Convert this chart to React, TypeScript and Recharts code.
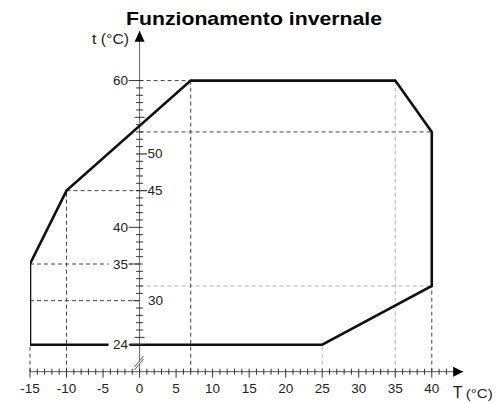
import { ComposedChart, Line, XAxis, YAxis, ReferenceLine, ReferenceDot } from 'recharts'

// operating envelope (outdoor T vs water t), clockwise from bottom-left corner
const envelopeT = [-15, -15, -10, 7, 35, 40, 40, 25, -15]
const envelopeW = [24, 35, 45, 60, 60, 53, 32, 24, 24]

// horizontal dashed guides
const hGuideY = [60, 53, 45, 35, 30, 32]
const hGuideFrom = [0, 0, -10, -15, -15, 0]
const hGuideTo = [7, 40, 0, 0, 0, 40]
const hGuideLight = [false, false, false, false, false, true]

// vertical dashed guides (down to the T axis)
const vGuideX = [-15, -10, 7, 40, 25, 35]
const vGuideTop = [24, 45, 60, 32, 24, 60]
const vGuideLight = [false, false, false, false, true, true]

// axis ticks
const xTicks = [-15, -14, -13, -12, -11, -10, -9, -8, -7, -6, -5, -4, -3, -2, -1, 0, 1, 2, 3, 4, 5, 6, 7, 8, 9, 10,
  11, 12, 13, 14, 15, 16, 17, 18, 19, 20, 21, 22, 23, 24, 25, 26, 27, 28, 29, 30, 31, 32, 33, 34, 35, 36, 37, 38, 39, 40, 41, 42]
const yTicks = [24, 25, 26, 27, 28, 29, 30, 31, 32, 33, 34, 35, 36, 37, 38, 39, 40, 41, 42, 43, 44, 45, 46, 47, 48, 49,
  50, 51, 52, 53, 54, 55, 56, 57, 58, 59, 60]
const yLabels = [60, 50, 45, 40, 35, 30, 24]
const yLabelSide = ['L', 'R', 'R', 'L', 'L', 'R2', 'L']

const X_MIN = -15
const X_MAX = 44.3
const Y_MIN = 20.32
const Y_MAX = 66.8
const BREAK_Y = 21.65

const data = envelopeT.map((t, i) => ({ T: t, t: envelopeW[i] }))

const DARK = '#444'
const LIGHT = '#b0b0b0'
const TXT = '#222'
const TICK = '#333'
const FS = 13.5

function XTick(props: any) {
  const { x, y, payload } = props
  const v = payload.value
  const major = v % 5 === 0
  return (
    <g>
      <line x1={x} x2={x} y1={y - 3} y2={y + (major ? 6 : 3)} stroke={TICK} />
      {major && (
        <text x={x} y={y + 16.5} textAnchor="middle" dominantBaseline="central" fontSize={FS} fill={TXT}>
          {v}
        </text>
      )}
    </g>
  )
}

function YTick({ cx, cy, value }: { cx: number; cy: number; value: number }) {
  const idx = yLabels.indexOf(value)
  if (idx < 0) {
    const len = value % 5 === 0 ? 5 : 3.5
    return <line x1={cx - len} x2={cx + len} y1={cy} y2={cy} stroke={TICK} />
  }
  const side = yLabelSide[idx]
  if (side === 'L') {
    return (
      <g>
        <rect x={cx - 31} y={cy - 8} width={21} height={16} fill="#fff" />
        <line x1={cx - 11} x2={cx + 3} y1={cy} y2={cy} stroke={TICK} />
        <text x={cx - 11.5} y={cy} textAnchor="end" dominantBaseline="central" fontSize={FS} fill={TXT}>{value}</text>
      </g>
    )
  }
  if (side === 'R') {
    return (
      <g>
        <line x1={cx - 3.5} x2={cx + 7.5} y1={cy} y2={cy} stroke={TICK} strokeWidth={1.2} />
        <text x={cx + 8} y={cy} textAnchor="start" dominantBaseline="central" fontSize={FS} fill={TXT}>{value}</text>
      </g>
    )
  }
  return (
    <g>
      <line x1={cx - 7} x2={cx} y1={cy} y2={cy} stroke={TICK} />
      <text x={cx + 8.5} y={cy} textAnchor="start" dominantBaseline="central" fontSize={FS} fill={TXT}>{value}</text>
    </g>
  )
}

function YArrow({ cx, cy }: { cx: number; cy: number }) {
  return (
    <g>
      <polygon points={`${cx},${cy} ${cx - 5},${cy + 11} ${cx + 5},${cy + 11}`} fill="#000" />
      <text x={cx - 47.5} y={cy + 8.5} dominantBaseline="central" fontSize={14} textLength={37} lengthAdjust="spacingAndGlyphs" fill={TXT}>t (°C)</text>
    </g>
  )
}

function XArrow({ cx, cy }: { cx: number; cy: number }) {
  return (
    <g>
      <polygon points={`${cx},${cy} ${cx - 10},${cy - 5} ${cx - 10},${cy + 5}`} fill="#000" />
      <text x={cx - 10.5} y={cy + 26.5} textAnchor="start" fontSize={16} fill={TXT}>T</text>
      <text x={cx + 2.5} y={cy + 26.5} textAnchor="start" fontSize={13} textLength={27} lengthAdjust="spacingAndGlyphs" fill={TXT}>(°C)</text>
    </g>
  )
}

function AxisBreak({ cx, cy }: { cx: number; cy: number }) {
  return (
    <g>
      <polygon points={`${cx - 5},${cy + 5} ${cx + 4},${cy - 6} ${cx + 4},${cy - 3} ${cx - 5},${cy + 8}`} fill="#fff" />
      <line x1={cx - 5} y1={cy + 5} x2={cx + 4} y2={cy - 6} stroke="#555" />
      <line x1={cx - 5} y1={cy + 8} x2={cx + 4} y2={cy - 3} stroke="#555" />
    </g>
  )
}

export default function App() {
  return (
    <div
      style={{
        position: 'absolute',
        left: 0,
        top: 0,
        width: 502,
        height: 403,
        background: '#fff',
        fontFamily: '"Liberation Sans", Arial, sans-serif',
      }}
    >
      <ComposedChart width={502} height={403} data={data} margin={{ top: 30.7, right: 38.8, bottom: 0, left: 30 }}>
        <XAxis
          type="number"
          dataKey="T"
          domain={[X_MIN, X_MAX]}
          allowDataOverflow
          ticks={xTicks}
          interval={0}
          height={31.3}
          tickSize={0}
          tickMargin={0}
          tickLine={false}
          axisLine={{ stroke: '#555' }}
          tick={<XTick />}
        />
        <YAxis type="number" domain={[Y_MIN, Y_MAX]} allowDataOverflow hide />

        {hGuideY.map((y, i) => (
          <ReferenceLine
            key={'h' + i}
            segment={[{ x: hGuideFrom[i], y }, { x: hGuideTo[i], y }]}
            stroke={hGuideLight[i] ? LIGHT : DARK}
            strokeDasharray="4 3"
            ifOverflow="visible"
          />
        ))}
        {vGuideX.map((x, i) => (
          <ReferenceLine
            key={'v' + i}
            segment={[{ x, y: Y_MIN }, { x, y: vGuideTop[i] }]}
            stroke={vGuideLight[i] ? LIGHT : DARK}
            strokeDasharray="4 3"
            ifOverflow="visible"
          />
        ))}

        <ReferenceLine segment={[{ x: 0, y: Y_MIN }, { x: 0, y: Y_MAX }]} stroke="#666" ifOverflow="visible" />

        <Line
          type="linear"
          dataKey="t"
          stroke="#111"
          strokeWidth={2.6}
          strokeLinejoin="miter"
          dot={false}
          activeDot={false}
          isAnimationActive={false}
        />

        {yTicks.map((v) => (
          <ReferenceDot
            key={'yt' + v}
            x={0}
            y={v}
            r={0}
            ifOverflow="visible"
            shape={(p: any) => <YTick cx={p.cx} cy={p.cy} value={v} />}
          />
        ))}
        <ReferenceDot x={0} y={BREAK_Y} r={0} ifOverflow="visible" shape={(p: any) => <AxisBreak cx={p.cx} cy={p.cy} />} />
        <ReferenceDot x={0} y={Y_MAX} r={0} ifOverflow="visible" shape={(p: any) => <YArrow cx={p.cx} cy={p.cy} />} />
        <ReferenceDot x={X_MAX} y={Y_MIN} r={0} ifOverflow="visible" shape={(p: any) => <XArrow cx={p.cx} cy={p.cy} />} />
      </ComposedChart>
      <svg width={502} height={403} style={{ position: 'absolute', left: 0, top: 0, pointerEvents: 'none' }}>
        <text
          x={254}
          y={25}
          textAnchor="middle"
          fontWeight="bold"
          fontSize={18.5}
          textLength={256}
          lengthAdjust="spacingAndGlyphs"
          fill="#000"
          fontFamily='"Liberation Sans", Arial, sans-serif'
        >
          Funzionamento invernale
        </text>
      </svg>
    </div>
  )
}
